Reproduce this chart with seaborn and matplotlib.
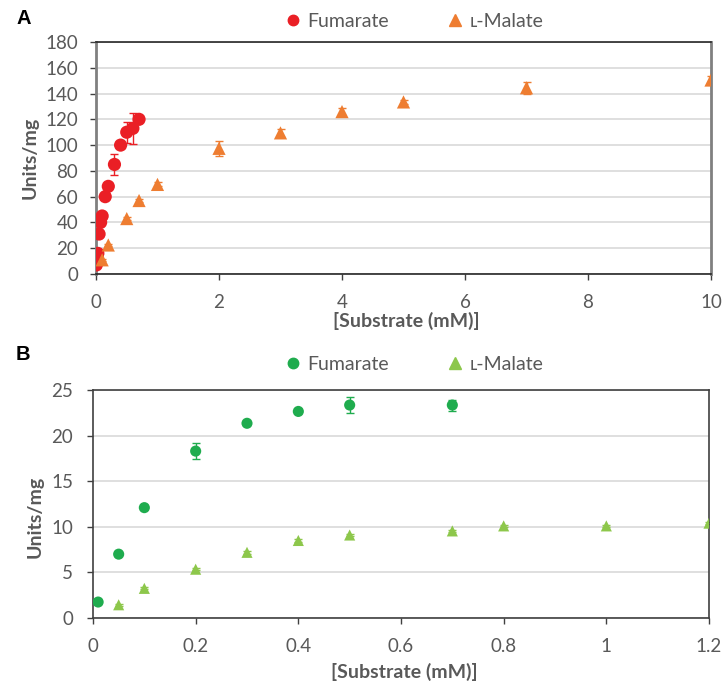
import matplotlib
matplotlib.use("Agg")
import matplotlib.pyplot as plt
from matplotlib.lines import Line2D
import seaborn as sns
import pandas as pd

# Panel A: purified enzyme, wide substrate range
a_fum_x = [0.005, 0.01, 0.02, 0.03, 0.05, 0.075, 0.1, 0.15, 0.2, 0.3, 0.4, 0.5, 0.6, 0.7]
a_fum_y = [7, 12, 14, 16, 31, 40, 45, 60, 68, 85, 100, 110, 113, 120]
a_fum_err = [1, 1, 1, 1, 1.5, 1.5, 1.5, 1.5, 2, 8, 2, 8, 12, 2]

a_mal_x = [0.1, 0.2, 0.5, 0.7, 1, 2, 3, 4, 5, 7, 10]
a_mal_y = [11, 22.5, 43, 57, 69.5, 97.5, 109.5, 126, 133.5, 144.5, 150.5]
a_mal_err = [1, 1, 1, 1.5, 1.5, 6, 3, 2.5, 1.5, 4.5, 3]

# Panel B: low substrate range
b_fum_x = [0.01, 0.05, 0.1, 0.2, 0.3, 0.4, 0.5, 0.7]
b_fum_y = [1.75, 7.0, 12.1, 18.3, 21.35, 22.65, 23.35, 23.35]
b_fum_err = [0.1, 0.1, 0.1, 0.9, 0.1, 0.1, 0.9, 0.6]

b_mal_x = [0.05, 0.1, 0.2, 0.3, 0.4, 0.5, 0.7, 0.8, 1.0, 1.2]
b_mal_y = [1.45, 3.25, 5.35, 7.2, 8.5, 9.1, 9.55, 10.1, 10.1, 10.4]
b_mal_err = [0.1, 0.1, 0.1, 0.15, 0.15, 0.15, 0.15, 0.1, 0.1, 0.1]

series_labels = ["Fumarate", "\u029f-Malate"]
x_label = "[Substrate (mM)]"
y_label = "Units/mg"

sns.set_theme(style="white")
plt.rcParams["font.family"] = ["Lato", "DejaVu Sans"]
TXT = "#595959"
W, H = 726, 683

fig = plt.figure(figsize=(W / 100, H / 100), dpi=100)
axA = fig.add_axes([96 / W, 1 - 274 / H, 615 / W, 232 / H])
axB = fig.add_axes([93 / W, 1 - 618 / H, 616 / W, 228 / H])


def draw(ax, fx, fy, fe, mx, my, me, c_fum, c_mal, msize, leg_xy, ylab_xy, xlab_y, ypad):
    df = pd.concat([
        pd.DataFrame({"x": fx, "y": fy, "s": series_labels[0]}),
        pd.DataFrame({"x": mx, "y": my, "s": series_labels[1]}),
    ])
    ax.errorbar(fx, fy, yerr=fe, fmt="none", ecolor=c_fum, elinewidth=1.0,
                capsize=3, capthick=1.0, zorder=2)
    ax.errorbar(mx, my, yerr=me, fmt="none", ecolor=c_mal, elinewidth=1.0,
                capsize=3, capthick=1.0, zorder=2)
    sns.scatterplot(data=df, x="x", y="y", hue="s", style="s",
                    palette={series_labels[0]: c_fum, series_labels[1]: c_mal},
                    markers={series_labels[0]: "o", series_labels[1]: "^"},
                    s=msize ** 2, linewidth=0, legend=False, ax=ax, zorder=3)
    handles = [
        Line2D([], [], marker="o", linestyle="none", color=c_fum, markersize=7.5),
        Line2D([], [], marker="^", linestyle="none", color=c_mal, markersize=8),
    ]
    leg = ax.legend(handles, series_labels, loc="center", bbox_to_anchor=leg_xy,
                    ncol=2, frameon=False, fontsize=14, handletextpad=0.35,
                    columnspacing=3.0, handlelength=0.8, borderaxespad=0, borderpad=0)
    for t in leg.get_texts():
        t.set_color(TXT)
    ax.set_xlabel(x_label, fontsize=14, fontweight="bold", color=TXT)
    ax.set_ylabel(y_label, fontsize=14, fontweight="bold", color=TXT)
    ax.xaxis.set_label_coords(0.505, xlab_y)
    ax.xaxis.label.set_verticalalignment("center")
    ax.yaxis.set_label_coords(*ylab_xy)
    ax.yaxis.label.set_verticalalignment("center")
    ax.tick_params(axis="both", labelsize=13.5, labelcolor=TXT, direction="out",
                   length=4.3, width=1, color="#404040", left=True, bottom=True)
    ax.tick_params(axis="x", pad=10)
    ax.tick_params(axis="y", pad=ypad)
    ax.grid(axis="y", color="#d9d9d9", linewidth=1.2)
    ax.set_axisbelow(True)


draw(axA, a_fum_x, a_fum_y, a_fum_err, a_mal_x, a_mal_y, a_mal_err,
     "#ea1f25", "#ee7d31", 9.5,
     leg_xy=(0.518, 1.0875), ylab_xy=(-0.107, 0.5), xlab_y=-0.203, ypad=8.6)
axA.set_xlim(0, 10)
axA.set_ylim(0, 180)
axA.set_xticks([0, 2, 4, 6, 8, 10])
axA.set_yticks(range(0, 181, 20))
for side in ["bottom", "top"]:
    axA.spines[side].set_color("#262626")
    axA.spines[side].set_linewidth(1.2)
for side in ["left", "right"]:
    axA.spines[side].set_color("#808080")
    axA.spines[side].set_linewidth(2.0)

draw(axB, b_fum_x, b_fum_y, b_fum_err, b_mal_x, b_mal_y, b_mal_err,
     "#1fac4e", "#8dc74b", 8.0,
     leg_xy=(0.522, 1.114), ylab_xy=(-0.094, 0.443), xlab_y=-0.237, ypad=10)
axB.set_xlim(0, 1.2)
axB.set_ylim(0, 25)
axB.set_xticks([0, 0.2, 0.4, 0.6, 0.8, 1.0, 1.2])
axB.set_xticklabels(["0", "0.2", "0.4", "0.6", "0.8", "1", "1.2"])
axB.set_yticks(range(0, 26, 5))
for side in ["bottom", "top", "left", "right"]:
    axB.spines[side].set_color("#404040")
    axB.spines[side].set_linewidth(1.2)

fig.text(23.5 / W, 1 - 19 / H, "A", fontsize=14.5, fontweight="bold", color="black",
         ha="center", va="center", family=["Liberation Sans", "DejaVu Sans"])
fig.text(23 / W, 1 - 354.5 / H, "B", fontsize=14.5, fontweight="bold", color="black",
         ha="center", va="center", family=["Liberation Sans", "DejaVu Sans"])

fig.savefig("out.png", dpi=100, facecolor="white")
